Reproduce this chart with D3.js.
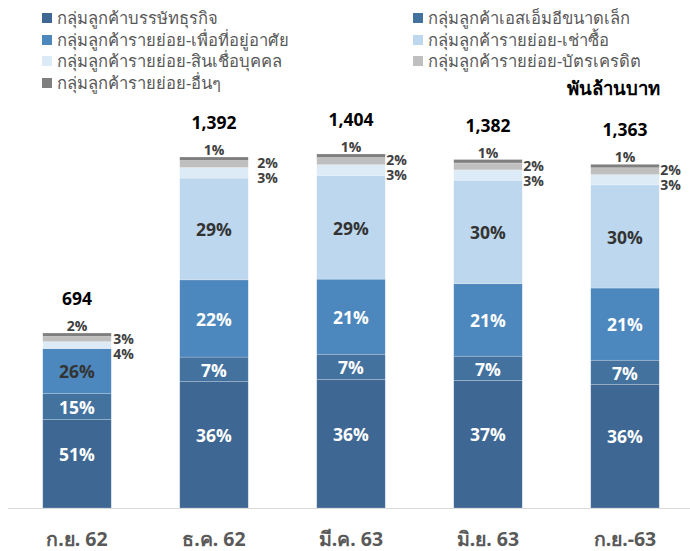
<!DOCTYPE html>
<html>
<head>
<meta charset="utf-8">
<script src="https://cdn.jsdelivr.net/npm/d3@7"></script>
<style>
  html, body { margin: 0; padding: 0; background: #ffffff; }
  svg { display: block; font-family: Tahoma, "Noto Sans", "Open Sans", sans-serif; }
</style>
</head>
<body>
<svg id="chart" width="690" height="551"></svg>
<script>
// ---- data ----
const categories = ["ก.ย. 62", "ธ.ค. 62", "มี.ค. 63", "มิ.ย. 63", "ก.ย.-63"];
const totals = [694, 1392, 1404, 1382, 1363]; // พันล้านบาท
const seriesNames = [
  "กลุ่มลูกค้าบรรษัทธุรกิจ",
  "กลุ่มลูกค้าเอสเอ็มอีขนาดเล็ก",
  "กลุ่มลูกค้ารายย่อย-เพื่อที่อยู่อาศัย",
  "กลุ่มลูกค้ารายย่อย-เช่าซื้อ",
  "กลุ่มลูกค้ารายย่อย-สินเชื่อบุคคล",
  "กลุ่มลูกค้ารายย่อย-บัตรเครดิต",
  "กลุ่มลูกค้ารายย่อย-อื่นๆ"
];
// share (%) of each series per period
const corporate   = [51, 36, 36, 37, 36];
const smallSME    = [15, 7, 7, 7, 7];
const housing     = [26, 22, 21, 21, 21];
const hirePurch   = [0, 29, 29, 30, 30];
const personal    = [4, 3, 3, 3, 3];
const creditCard  = [3, 2, 2, 2, 2];
const others      = [2, 1, 1, 1, 1];
const unitLabel = "พันล้านบาท";

// ---- styles ----
const colors = ["#3e6893", "#44729f", "#4c87bd", "#bdd7ee", "#ddebf7", "#bfbfbf", "#7f7f7f"];
const series = [corporate, smallSME, housing, hirePurch, personal, creditCard, others];

const svg = d3.select("#chart");
const baseY = 508;

const x = d3.scaleBand().domain(categories).range([8.5, 693.5]).paddingInner(0.5).paddingOuter(0.25);
const y = d3.scaleLinear().domain([0, 1392]).range([baseY, 157]);

// build table: amount of each series = share * total
const rows = categories.map((c, i) => {
  const sum = series.reduce((s, arr) => s + arr[i], 0);
  const r = { cat: c, total: totals[i] };
  series.forEach((arr, k) => { r["s" + k] = arr[i] / sum * totals[i]; r["p" + k] = arr[i]; });
  return r;
});
const keys = series.map((_, k) => "s" + k);
const stacked = d3.stack().keys(keys)(rows);

// axis line
svg.append("line").attr("x1", 8).attr("x2", 690).attr("y1", baseY + 0.5).attr("y2", baseY + 0.5)
  .attr("stroke", "#d9d9d9").attr("stroke-width", 1);

// bars
const layers = svg.append("g").selectAll("g").data(stacked).join("g")
  .attr("fill", (d, k) => colors[k]);
layers.selectAll("rect").data(d => d).join("rect")
  .attr("x", d => x(d.data.cat))
  .attr("width", x.bandwidth())
  .attr("y", d => y(d[1]))
  .attr("height", d => Math.max(0, y(d[0]) - y(d[1])))
  .attr("stroke", "#ffffff").attr("stroke-opacity", 0.35).attr("stroke-width", 0.6);

// in-bar labels (series 0..3)
const pctFont = "'Open Sans', 'Noto Sans', sans-serif";
stacked.slice(0, 4).forEach((layer, k) => {
  layer.forEach((d, i) => {
    const p = d.data["p" + k];
    if (!p) return;
    const dark = (k === 3) || (k === 2 && i === 0);
    const shift = k === 0 ? -9 : 1;
    svg.append("text")
      .attr("x", x(d.data.cat) + x.bandwidth() / 2)
      .attr("y", (y(d[0]) + y(d[1])) / 2 + shift)
      .attr("dy", "0.36em")
      .attr("text-anchor", "middle")
      .attr("font-family", pctFont)
      .attr("font-weight", "bold")
      .attr("font-size", 17.5)
      .attr("fill", dark ? "#333333" : "#ffffff")
      .text(p + "%");
  });
});

// small labels: others above, credit card & personal to the right
const rightOffset = [2, 9, 1, 1, 1];
rows.forEach((r, i) => {
  const barTop = y(stacked[6][i][1]);
  const cx = x(r.cat) + x.bandwidth() / 2;
  const rx = x(r.cat) + x.bandwidth() + rightOffset[i];
  const small = (t, xx, yy, anchor) => svg.append("text")
    .attr("x", xx).attr("y", yy).attr("text-anchor", anchor)
    .attr("font-family", pctFont).attr("font-weight", "bold")
    .attr("font-size", 14).attr("fill", "#404040").text(t);
  small(r.p6 + "%", cx, barTop - 2, "middle");
  small(r.p5 + "%", rx, barTop + 11, "start");
  small(r.p4 + "%", rx, barTop + 26, "start");
  // total
  svg.append("text")
    .attr("x", cx).attr("y", barTop - 28)
    .attr("text-anchor", "middle")
    .attr("font-family", pctFont).attr("font-weight", "bold")
    .attr("font-size", 17.5).attr("fill", "#000000")
    .text(d3.format(",")(r.total));
});

// category labels
svg.append("g").selectAll("text").data(categories).join("text")
  .attr("x", d => x(d) + x.bandwidth() / 2)
  .attr("y", 546)
  .attr("text-anchor", "middle")
  .attr("font-weight", "bold")
  .attr("font-size", 19.5)
  .attr("fill", "#595959")
  .text(d => d);

// legend
const legPos = [[42, 18], [413, 18], [42, 40], [413, 40], [42, 61], [413, 61], [42, 83]];
seriesNames.forEach((name, k) => {
  const [lx, ly] = legPos[k];
  svg.append("rect").attr("x", lx).attr("y", ly - 5).attr("width", 10).attr("height", 10)
    .attr("fill", colors[k]);
  svg.append("text").attr("x", lx + 15).attr("y", ly + 6)
    .attr("font-size", 16.6).attr("fill", "#595959").text(name);
});
svg.append("text").attr("x", 660).attr("y", 95).attr("text-anchor", "end")
  .attr("font-weight", "bold").attr("font-size", 18.5).attr("fill", "#000000").text(unitLabel);
</script>
</body>
</html>
